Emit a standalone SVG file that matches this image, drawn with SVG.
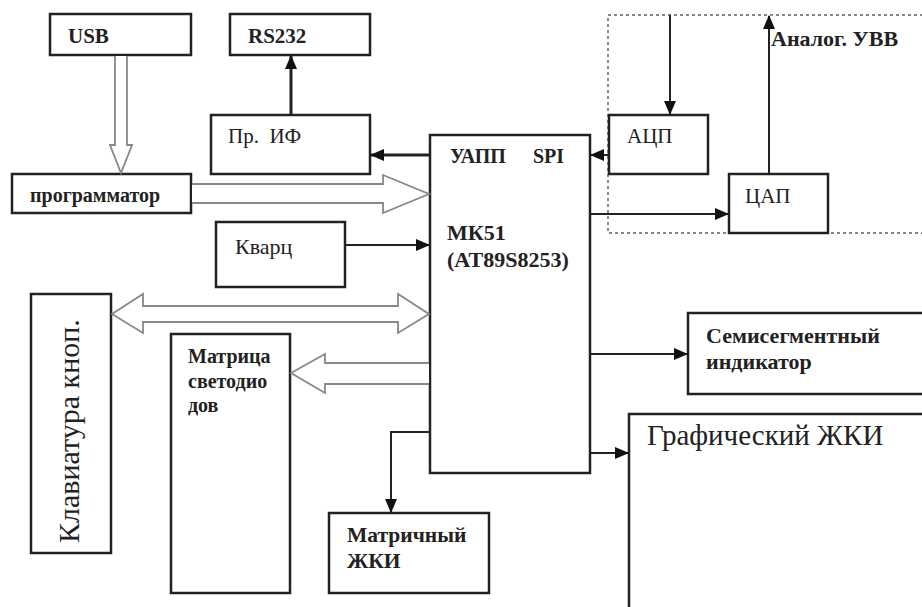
<svg xmlns="http://www.w3.org/2000/svg" width="922" height="607" viewBox="0 0 922 607">
<style>
.box{fill:#fff;stroke:#222;stroke-width:2.5}
.b{font-family:'Liberation Serif','Tinos','Times New Roman','DejaVu Serif',serif;font-weight:bold;fill:#222}
.r{font-family:'Liberation Serif','Tinos','Times New Roman','DejaVu Serif',serif;fill:#222}
.ln{fill:none;stroke:#222;stroke-width:2}
.thick{stroke-width:3}
.hol{fill:#fff;stroke:#888;stroke-width:1.8}
.dash{fill:none;stroke:#888;stroke-width:2;stroke-dasharray:3 3}
</style>
<defs>
<marker id="ah" markerUnits="userSpaceOnUse" markerWidth="14" markerHeight="12" refX="13" refY="6" orient="auto">
<path d="M0,0 L14,6 L0,12 Z" fill="#111"/>
</marker>
</defs>
<rect x="0" y="0" width="922" height="607" fill="#fff"/>

<rect id="analog-area" class="dash" x="608" y="15" width="400" height="218"/>

<g id="usb"><rect class="box" x="50" y="14" width="141" height="41"/><text class="b" x="68" y="43" font-size="21">USB</text></g>
<g id="rs232"><rect class="box" x="230" y="14" width="140" height="41"/><text class="b" x="248" y="43" font-size="21">RS232</text></g>
<g id="pr-if"><rect class="box" x="211" y="115" width="159" height="59"/><text class="r" x="228" y="143" font-size="21" xml:space="preserve">Пр.  ИФ</text></g>
<g id="programmator"><rect class="box" x="12" y="174" width="179" height="39"/><text class="b" x="30" y="202" font-size="20">программатор</text></g>
<g id="kvarc"><rect class="box" x="216" y="222" width="129" height="65"/><text class="r" x="235" y="254" font-size="22">Кварц</text></g>
<g id="mk51"><rect class="box" x="430" y="135" width="160" height="338"/>
<text class="b" x="450" y="163" font-size="20">УАПП</text>
<text class="b" x="533" y="163" font-size="20">SPI</text>
<text class="b" x="447" y="240" font-size="22">МК51</text>
<text class="b" x="447" y="267" font-size="22">(AT89S8253)</text></g>
<g id="adc"><rect class="box" x="609" y="115" width="99" height="59"/><text class="r" x="627" y="143" font-size="21">АЦП</text></g>
<g id="dac"><rect class="box" x="729" y="174" width="99" height="59"/><text class="r" x="745" y="203" font-size="21">ЦАП</text></g>
<text id="analog-label" class="b" x="771" y="46" font-size="22">Аналог. УВВ</text>
<g id="keyboard"><rect class="box" x="31" y="294" width="80" height="259"/><text class="r" transform="translate(79,543) rotate(-90)" font-size="30">Клавиатура кноп.</text></g>
<g id="led-matrix"><rect class="box" x="171" y="334" width="119" height="259"/>
<text class="b" x="188" y="363" font-size="20">Матрица</text>
<text class="b" x="188" y="388" font-size="20">светодио</text>
<text class="b" x="188" y="412" font-size="20">дов</text></g>
<g id="matrix-lcd"><rect class="box" x="329" y="513" width="160" height="80"/>
<text class="b" x="347" y="542" font-size="21.5">Матричный</text>
<text class="b" x="347" y="568" font-size="21.5">ЖКИ</text></g>
<g id="seven-seg"><rect class="box" x="688" y="313" width="250" height="81"/>
<text class="b" x="706" y="343" font-size="22">Семисегментный</text>
<text class="b" x="706" y="369" font-size="22">индикатор</text></g>
<g id="graphic-lcd"><rect class="box" x="629" y="414" width="320" height="220"/>
<text class="r" x="647" y="445" font-size="29">Графический ЖКИ</text></g>

<g id="connectors">
<path class="hol" d="M115,56 L115,145 L110,145 L121,173 L132,145 L127,145 L127,56"/>
<path class="hol" d="M192,184 L383,184 L383,175 L429,194 L383,213 L383,203 L192,203"/>
<path class="hol" d="M112,314 L143,294 L143,306 L398,306 L398,294 L429,314 L398,333 L398,322 L143,322 L143,333 Z"/>
<path class="hol" d="M429,363 L325,363 L325,354 L291,373 L325,393 L325,384 L429,384"/>
<line class="ln thick" x1="291" y1="114" x2="291" y2="56" marker-end="url(#ah)"/>
<line class="ln thick" x1="429" y1="155" x2="371" y2="155" marker-end="url(#ah)"/>
<line class="ln" x1="609" y1="155" x2="591" y2="155" marker-end="url(#ah)"/>
<line class="ln" x1="670" y1="15" x2="670" y2="114" marker-end="url(#ah)"/>
<line class="ln" x1="591" y1="214" x2="728" y2="214" marker-end="url(#ah)"/>
<line class="ln" x1="769" y1="173" x2="769" y2="16" marker-end="url(#ah)"/>
<line class="ln" x1="345" y1="245" x2="429" y2="245" marker-end="url(#ah)"/>
<line class="ln" x1="591" y1="354" x2="687" y2="354" marker-end="url(#ah)"/>
<line class="ln" x1="591" y1="453" x2="628" y2="453" marker-end="url(#ah)"/>
<polyline class="ln" points="429,432 391,432 391,512" marker-end="url(#ah)"/>
</g>
</svg>
